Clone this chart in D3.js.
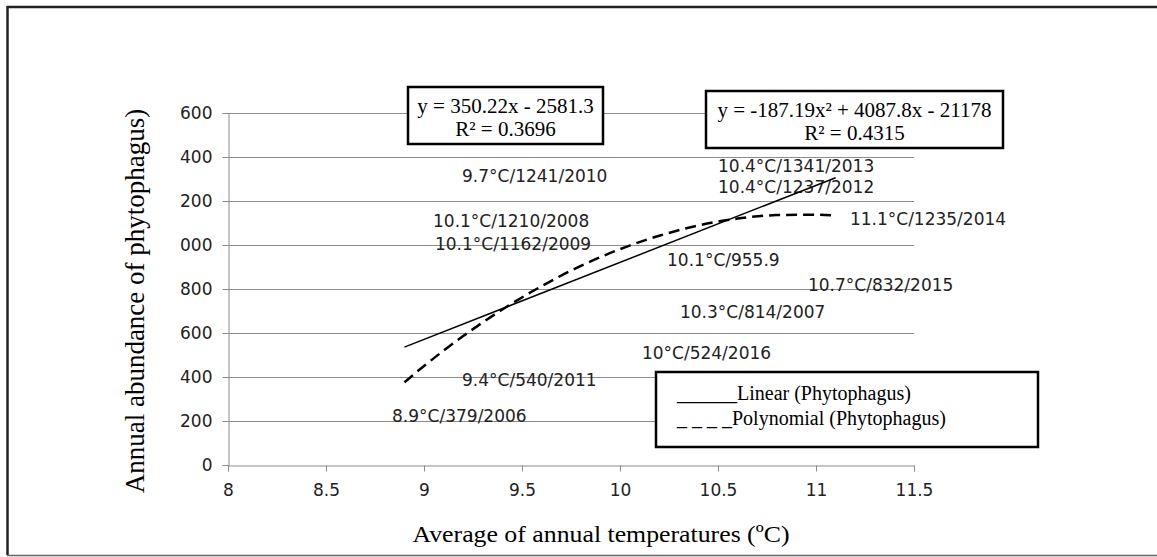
<!DOCTYPE html>
<html>
<head>
<meta charset="utf-8">
<script src="https://cdn.jsdelivr.net/npm/d3@7"></script>
<style>
  body { margin: 0; background: #fff; }
  svg { display: block; }
</style>
</head>
<body>
<script>
const width = 1157, height = 557;

// axis ticks
const xTicks = [8, 8.5, 9, 9.5, 10, 10.5, 11, 11.5];
const yTicks = [0, 200, 400, 600, 800, 1000, 1200, 1400, 1600];
const yTickLabels = ["0", "200", "400", "600", "800", "000", "200", "400", "600"]; // clipped as in the original

// trend lines (temperature, abundance)
const linearX = [8.9, 11.1];
const linearY = [536, 1306];
const polyX = [8.9, 9.0, 9.2, 9.4, 9.6, 9.8, 10.0, 10.2, 10.4, 10.6, 10.8, 11.0, 11.1];
const polyY = [376, 450, 586, 707, 813, 905, 981, 1042, 1089, 1120, 1136, 1138, 1133];

// point labels and where they sit (in data units)
const pointLabels = ["8.9°C/379/2006", "10.3°C/814/2007", "10.1°C/1210/2008", "10.1°C/1162/2009",
  "9.7°C/1241/2010", "9.4°C/540/2011", "10.4°C/1237/2012", "10.4°C/1341/2013",
  "11.1°C/1235/2014", "10.7°C/832/2015", "10°C/524/2016", "10.1°C/955.9"];
const labelX = [8.837, 10.306, 9.046, 9.056, 9.194, 9.194, 10.5, 10.5, 11.173, 10.959, 10.112, 10.24];
const labelY = [195, 668, 1082, 977, 1286, 359, 1236, 1332, 1091, 791, 482, 905];

const linearEq = ["y = 350.22x - 2581.3", "R² = 0.3696"];
const polyEq = ["y = -187.19x² + 4087.8x - 21178", "R² = 0.4315"];
const legendItems = ["______Linear (Phytophagus)", "_ _ _ _Polynomial (Phytophagus)"];

const serif = "'Liberation Serif', 'Times New Roman', serif";
const sans = "'DejaVu Sans', Verdana, sans-serif";

const svg = d3.select("body").append("svg")
    .attr("width", width)
    .attr("height", height);

// outer frame
svg.append("line").attr("x1", 7).attr("x2", width).attr("y1", 7).attr("y2", 7)
    .attr("stroke", "#222").attr("stroke-width", 2.5);
svg.append("line").attr("x1", 7.5).attr("x2", 7.5).attr("y1", 6).attr("y2", 556)
    .attr("stroke", "#222").attr("stroke-width", 2.5);

const x = d3.scaleLinear().domain([8, 11.5]).range([228, 914]);
const y = d3.scaleLinear().domain([0, 1600]).range([465, 113]);

// gridlines
svg.append("g").selectAll("line")
    .data(yTicks.slice(1))
    .join("line")
    .attr("x1", x(8)).attr("x2", x(11.5))
    .attr("y1", d => Math.round(y(d)) + 0.5).attr("y2", d => Math.round(y(d)) + 0.5)
    .attr("stroke", "#8c8c8c").attr("stroke-width", 1);

// axes
const yAxis = svg.append("g")
    .attr("transform", `translate(${x(8) + 0.5},0)`)
    .call(d3.axisLeft(y).tickValues(yTicks).tickSize(6).tickPadding(10)
        .tickFormat((d, i) => yTickLabels[i]));
const xAxis = svg.append("g")
    .attr("transform", `translate(0,${y(0) + 0.5})`)
    .call(d3.axisBottom(x).tickValues(xTicks).tickSize(6).tickPadding(12)
        .tickFormat(d3.format("")));

[yAxis, xAxis].forEach(g => {
    g.select(".domain").attr("stroke", "#8c8c8c");
    g.selectAll(".tick line").attr("stroke", "#8c8c8c");
    g.selectAll(".tick text")
        .attr("fill", "#222")
        .style("font-family", sans)
        .style("font-size", "17px");
});

// point labels
svg.append("g").selectAll("text")
    .data(pointLabels)
    .join("text")
    .attr("x", (d, i) => x(labelX[i]))
    .attr("y", (d, i) => y(labelY[i]))
    .attr("fill", "#222")
    .style("font-family", sans)
    .style("font-size", "17px")
    .text(d => d);

// trend lines
const line = d3.line().x(d => x(d[0])).y(d => y(d[1]));

svg.append("path")
    .datum(linearX.map((v, i) => [v, linearY[i]]))
    .attr("d", line)
    .attr("fill", "none")
    .attr("stroke", "#000")
    .attr("stroke-width", 1.5);

svg.append("path")
    .datum(polyX.map((v, i) => [v, polyY[i]]))
    .attr("d", line.curve(d3.curveMonotoneX))
    .attr("fill", "none")
    .attr("stroke", "#000")
    .attr("stroke-width", 2.5)
    .attr("stroke-dasharray", "11,6");

// equation boxes
function eqBox(lines, x0, y0, w, h) {
    const g = svg.append("g");
    g.append("rect")
        .attr("x", x0).attr("y", y0).attr("width", w).attr("height", h)
        .attr("fill", "#fff").attr("stroke", "#000").attr("stroke-width", 2.5);
    g.selectAll("text")
        .data(lines)
        .join("text")
        .attr("x", x0 + w / 2)
        .attr("y", (d, i) => y0 + 26 + i * 23)
        .attr("text-anchor", "middle")
        .attr("fill", "#000")
        .style("font-family", serif)
        .style("font-size", "21px")
        .text(d => d);
}
eqBox(linearEq, 408, 87, 195, 57);
eqBox(polyEq, 706, 91, 297, 57);

// legend
const legend = svg.append("g");
legend.append("rect")
    .attr("x", 656).attr("y", 372).attr("width", 382).attr("height", 75)
    .attr("fill", "#fff").attr("stroke", "#000").attr("stroke-width", 2.5);
legend.selectAll("text")
    .data(legendItems)
    .join("text")
    .attr("x", 677)
    .attr("y", (d, i) => 400 + i * 25)
    .attr("fill", "#000")
    .style("font-family", serif)
    .style("font-size", "20px")
    .text(d => d);

// axis titles
svg.append("text")
    .attr("transform", `translate(144,${(113 + 465) / 2 + 12}) rotate(-90)`)
    .attr("text-anchor", "middle")
    .attr("fill", "#000")
    .style("font-family", serif)
    .style("font-size", "27px")
    .text("Annual abundance of  phytophagus)");

svg.append("text")
    .attr("x", 601)
    .attr("y", 542)
    .attr("text-anchor", "middle")
    .attr("textLength", 377)
    .attr("lengthAdjust", "spacingAndGlyphs")
    .attr("fill", "#000")
    .style("font-family", serif)
    .style("font-size", "24px")
    .text("Average of annual temperatures (ºC)");

// bottom frame edge hides the lower part of the title
svg.append("rect").attr("x", 0).attr("y", 555).attr("width", width).attr("height", 2).attr("fill", "#fff");
svg.append("line").attr("x1", 7).attr("x2", width).attr("y1", 555.5).attr("y2", 555.5)
    .attr("stroke", "#666").attr("stroke-width", 1.5);
</script>
</body>
</html>
